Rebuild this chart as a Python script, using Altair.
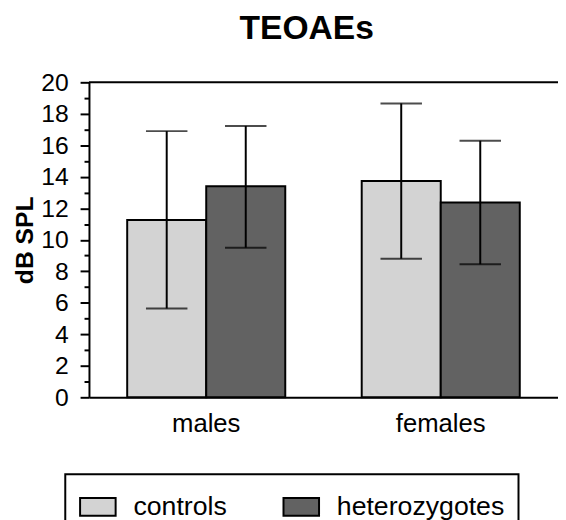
import altair as alt
import pandas as pd

# ---- data ----
sexes = ["males", "males", "females", "females"]
groups = ["controls", "heterozygotes", "controls", "heterozygotes"]
means = [11.26, 13.40, 13.73, 12.37]
err_hi = [16.90, 17.23, 18.66, 16.29]
err_lo = [5.64, 9.50, 8.80, 8.45]

sex_order = ["males", "females"]
group_order = ["controls", "heterozygotes"]
group_colors = ["#d3d3d3", "#626262"]
y_ticks = list(range(0, 21))
frame_top = [20]

df = pd.DataFrame({"sex": sexes, "group": groups, "mean": means,
                   "hi": err_hi, "lo": err_lo})

FONT = "Liberation Sans"

x_enc = alt.X(
    "sex:N", sort=sex_order,
    scale=alt.Scale(paddingInner=0.326, paddingOuter=0.163),
    axis=alt.Axis(title=None, labelAngle=0, ticks=False, labelFontSize=26,
                  labelFont=FONT, labelColor="black", labelPadding=14,
                  domainColor="black", domainWidth=2),
)
xo_enc = alt.XOffset("group:N", sort=group_order,
                     scale=alt.Scale(paddingInner=0, paddingOuter=0))

y_axis = alt.Axis(
    title="dB SPL", titleFont=FONT, titleFontSize=25, titleFontWeight="bold",
    titleColor="black", titlePadding=3,
    values=y_ticks, tickCount=len(y_ticks), labelOverlap=False,
    labelExpr="datum.value % 2 == 0 ? datum.label : ''",
    labelFont=FONT, labelFontSize=25, labelColor="black", labelPadding=12,
    tickSize={"condition": {"test": "datum.value % 2 == 0", "value": 9}, "value": 5},
    tickColor="black", tickWidth=2,
    domainColor="black", domainWidth=2, grid=False,
)
y_scale = alt.Scale(domain=[0, 20], nice=False, zero=True)

base = alt.Chart(df)

bars = base.mark_bar(stroke="black", strokeWidth=2).encode(
    x=x_enc, xOffset=xo_enc,
    y=alt.Y("mean:Q", scale=y_scale, axis=y_axis),
    color=alt.Color(
        "group:N", sort=group_order,
        scale=alt.Scale(domain=group_order, range=group_colors),
        legend=alt.Legend(
            title=None, orient="none", legendX=-24, legendY=397,
            direction="horizontal",
            symbolType="M-1,-0.5H1V0.5H-1Z", symbolSize=1296,
            symbolStrokeColor="black", symbolStrokeWidth=2,
            labelFont=FONT, labelFontSize=27, labelColor="black",
            labelOffset=17, columnPadding=53, padding=14, labelLimit=400,
            strokeColor="black",
        ),
    ),
)

rules = base.mark_rule(color="black", strokeWidth=2).encode(
    x=x_enc, xOffset=xo_enc, y="lo:Q", y2="hi:Q",
)
cap_hi = base.mark_tick(color="black", thickness=2, size=42, orient="horizontal").encode(
    x=x_enc, xOffset=xo_enc, y="hi:Q",
)
cap_lo = base.mark_tick(color="black", thickness=2, size=42, orient="horizontal").encode(
    x=x_enc, xOffset=xo_enc, y="lo:Q",
)

top_line = alt.Chart(pd.DataFrame({"v": frame_top})).mark_rule(
    color="black", strokeWidth=2).encode(y="v:Q")

chart = alt.layer(bars, rules, cap_hi, cap_lo, top_line).properties(
    width=475, height=319,
    title=alt.TitleParams("TEOAEs", font=FONT, fontSize=34, fontWeight="bold",
                          color="black", anchor="middle", dx=-17, offset=25),
    autosize=alt.AutoSizeParams(type="none"),
    padding={"left": 82, "top": 72, "right": 0, "bottom": 121},
).configure_view(stroke=None).configure_legend(strokeWidth=2)

chart.save("out.html", embed_options={"renderer": "svg", "actions": False})
